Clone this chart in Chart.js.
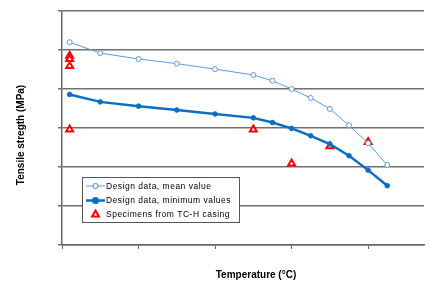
<!DOCTYPE html>
<html>
<head>
<meta charset="utf-8">
<script src="https://cdn.jsdelivr.net/npm/chart.js@4/dist/chart.umd.min.js"></script>
<style>
  html, body { margin: 0; padding: 0; background: #fff; }
  canvas { display: block; }
</style>
</head>
<body>
<canvas id="canvas" width="430" height="281"></canvas>
<script>
// temperatures (°C) of the design curves
var temps = [10, 50, 100, 150, 200, 250, 275, 300, 325, 350, 375, 400, 425];
// design data, mean value (MPa)
var meanVals = [520, 492, 477, 465, 451, 436, 421, 400, 377, 349, 307, 261, 205];
// design data, minimum values (MPa)
var minVals = [386, 367, 356, 346, 336, 326, 314, 299, 280, 259, 229, 192, 152];
// specimens from TC-H casing
var specTemps = [10, 10, 10, 10, 250, 300, 350, 400];
var specVals = [485, 477, 459, 296, 296, 209, 253, 264];

var legendNames = ['Design data, mean value', 'Design data, minimum values', 'Specimens from TC-H casing'];

var meanColor = '#5b9bd5';
var minColor = '#0a6ec4';
var specColor = '#ff0000';

function pts(xs, ys) {
    return xs.map(function (x, i) { return {x: x, y: ys[i]}; });
}

// axis titles and boxed legend drawn by hand, placed like the original
var extras = {
    id: 'extras',
    afterDraw: function (chart) {
        var ctx = chart.ctx;
        ctx.save();
        ctx.fillStyle = '#000';
        ctx.font = 'bold 10px "Liberation Sans", Arial, sans-serif';
        ctx.textAlign = 'center';
        ctx.textBaseline = 'middle';
        ctx.fillText('Temperature (°C)', 256, 275);
        ctx.translate(21, 135);
        ctx.rotate(-Math.PI / 2);
        ctx.fillText('Tensile stregth (MPa)', 0, 0);
        ctx.restore();

        // legend box
        ctx.save();
        ctx.fillStyle = '#fff';
        ctx.fillRect(82, 177, 157, 45);
        ctx.strokeStyle = '#555';
        ctx.lineWidth = 1;
        ctx.strokeRect(82.5, 177.5, 157, 45);
        var rows = [186, 200.5, 214.5];
        for (var i = 0; i < 3; i++) {
            var y = rows[i];
            var ds = chart.data.datasets[i];
            if (i < 2) {
                ctx.strokeStyle = ds.borderColor;
                ctx.lineWidth = ds.borderWidth;
                ctx.beginPath();
                ctx.moveTo(86, y);
                ctx.lineTo(105, y);
                ctx.stroke();
            }
            Chart.helpers.drawPoint(ctx, {
                pointStyle: ds.pointStyle,
                radius: ds.pointRadius,
                borderWidth: ds.pointBorderWidth
            }, 95.5, y);
            ctx.fillStyle = ds.pointBackgroundColor;
            ctx.strokeStyle = ds.pointBorderColor;
            ctx.lineWidth = ds.pointBorderWidth;
            ctx.fill();
            ctx.stroke();
            ctx.fillStyle = '#000';
            ctx.font = '8.5px "Liberation Sans", Arial, sans-serif';
            ctx.textAlign = 'left';
            ctx.textBaseline = 'middle';
            ctx.letterSpacing = '0.5px';
            ctx.fillText(legendNames[i], 106, y + 0.5);
            ctx.letterSpacing = '0px';
        }
        ctx.restore();
    }
};

new Chart(document.getElementById('canvas').getContext('2d'), {
    type: 'scatter',
    data: {
        datasets: [{
            label: legendNames[0],
            data: pts(temps, meanVals),
            showLine: true,
            borderColor: meanColor,
            borderWidth: 1,
            pointStyle: 'circle',
            pointRadius: 2.5,
            pointBorderWidth: 1,
            pointBorderColor: meanColor,
            pointBackgroundColor: '#fff'
        }, {
            label: legendNames[1],
            data: pts(temps, minVals),
            showLine: true,
            borderColor: minColor,
            borderWidth: 2.5,
            pointStyle: 'circle',
            pointRadius: 2.3,
            pointBorderWidth: 1,
            pointBorderColor: minColor,
            pointBackgroundColor: minColor
        }, {
            label: legendNames[2],
            data: pts(specTemps, specVals),
            showLine: false,
            pointStyle: 'triangle',
            pointRadius: 4,
            pointBorderWidth: 2,
            pointBorderColor: specColor,
            pointBackgroundColor: '#fff'
        }]
    },
    options: {
        responsive: false,
        animation: false,
        events: [],
        layout: {padding: {top: 11, right: 0, left: 0, bottom: 0}},
        plugins: {
            legend: {display: false},
            tooltip: {enabled: false}
        },
        scales: {
            x: {
                type: 'linear',
                min: 0,
                max: 473,
                afterBuildTicks: function (scale) {
                    scale.ticks = [0, 100, 200, 300, 400].map(function (v) { return {value: v}; });
                },
                afterFit: function (scale) { scale.height = 36; },
                ticks: {display: false},
                grid: {drawOnChartArea: false, drawTicks: true, tickLength: 4, color: '#666', lineWidth: 1},
                border: {color: '#666', width: 1.5}
            },
            y: {
                min: 0,
                max: 600,
                afterBuildTicks: function (scale) {
                    scale.ticks = [0, 100, 200, 300, 400, 500, 600].map(function (v) { return {value: v}; });
                },
                afterFit: function (scale) { scale.width = 62; },
                ticks: {display: false},
                grid: {color: '#707070', lineWidth: 1.5, tickLength: 4},
                border: {color: '#666', width: 1.5}
            }
        }
    },
    plugins: [extras]
});
</script>
</body>
</html>
